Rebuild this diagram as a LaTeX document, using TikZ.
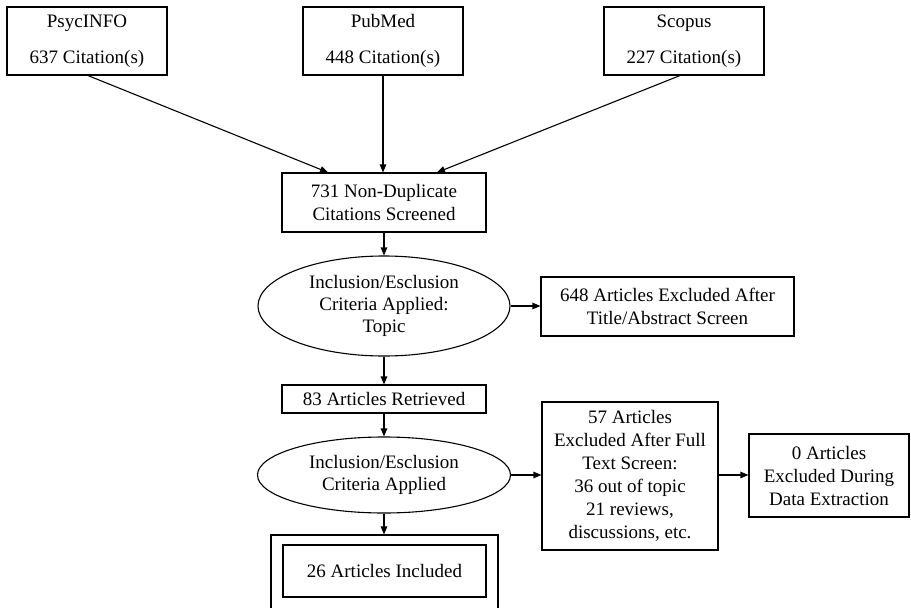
\documentclass[tikz,border=0pt]{standalone}
\usepackage{fontspec}
\setmainfont{Liberation Serif}
\usetikzlibrary{shapes.geometric,arrows.meta}
\begin{document}
\begin{tikzpicture}[x=1pt,y=-1pt,
  every node/.style={font=\fontsize{19}{23}\selectfont, inner sep=0pt, align=center},
  box/.style={draw, line width=1.1pt},
  ell/.style={draw, line width=1.1pt, ellipse, font=\fontsize{19}{22}\selectfont},
  arr/.style={draw, line width=1.1pt, -{Triangle[length=8pt,width=6.5pt]}}
]
\useasboundingbox (0,0) rectangle (911,608);
\clip (0,0) rectangle (911,608);
\node[box, minimum width=160, minimum height=68] (psyc) at (87,41) {PsycINFO\\[13pt]637 Citation(s)};
\node[box, minimum width=160, minimum height=68] (pub) at (383,41) {PubMed\\[13pt]448 Citation(s)};
\node[box, minimum width=160, minimum height=68] (sco) at (684,41) {Scopus\\[13pt]227 Citation(s)};
\node[box, minimum width=204, minimum height=59] (dup) at (384,202.5) {731 Non-Duplicate\\Citations Screened};
\node[ell, minimum width=252, minimum height=100] (ell1) at (384,306) {Inclusion/Esclusion\\Criteria Applied:\\Topic};
\node[box, minimum width=253, minimum height=59] (ex1) at (667.5,306.5) {648 Articles Excluded After\\Title/Abstract Screen};
\node[box, minimum width=204, minimum height=28] (ret) at (384,399) {83 Articles Retrieved};
\node[ell, minimum width=253, minimum height=76] (ell2) at (384,475) {Inclusion/Esclusion\\Criteria Applied};
\node[box, minimum width=176, minimum height=148] (ex2) at (630,476) {57 Articles\\Excluded After Full\\Text Screen:\\36 out of topic\\21 reviews,\\discussions, etc.};
\node[box, minimum width=160, minimum height=83] (ex3) at (829,475.5) {0 Articles\\Excluded During\\Data Extraction};
\node[box, minimum width=227, minimum height=100] (outer) at (384.5,585) {};
\node[box, minimum width=203, minimum height=52] (inc) at (384.5,571) {26 Articles Included};
\draw[arr] ([xshift=1pt]psyc.south) -- ([xshift=-56pt]dup.north);
\draw[arr] (pub.south) -- ([xshift=-1pt]dup.north);
\draw[arr] ([xshift=-4pt]sco.south) -- ([xshift=53pt]dup.north);
\draw[arr] (dup.south) -- (ell1.north);
\draw[arr] (ell1.east) -- (ex1.west |- ell1.east);
\draw[arr] (ell1.south) -- (ret.north);
\draw[arr] (ret.south) -- (ell2.north);
\draw[arr] (ell2.east) -- (ex2.west |- ell2.east);
\draw[arr] (ex2.east |- ell2.east) -- (ex3.west |- ell2.east);
\draw[arr] (ell2.south) -- (outer.north -| ell2.south);
\end{tikzpicture}
\end{document}
